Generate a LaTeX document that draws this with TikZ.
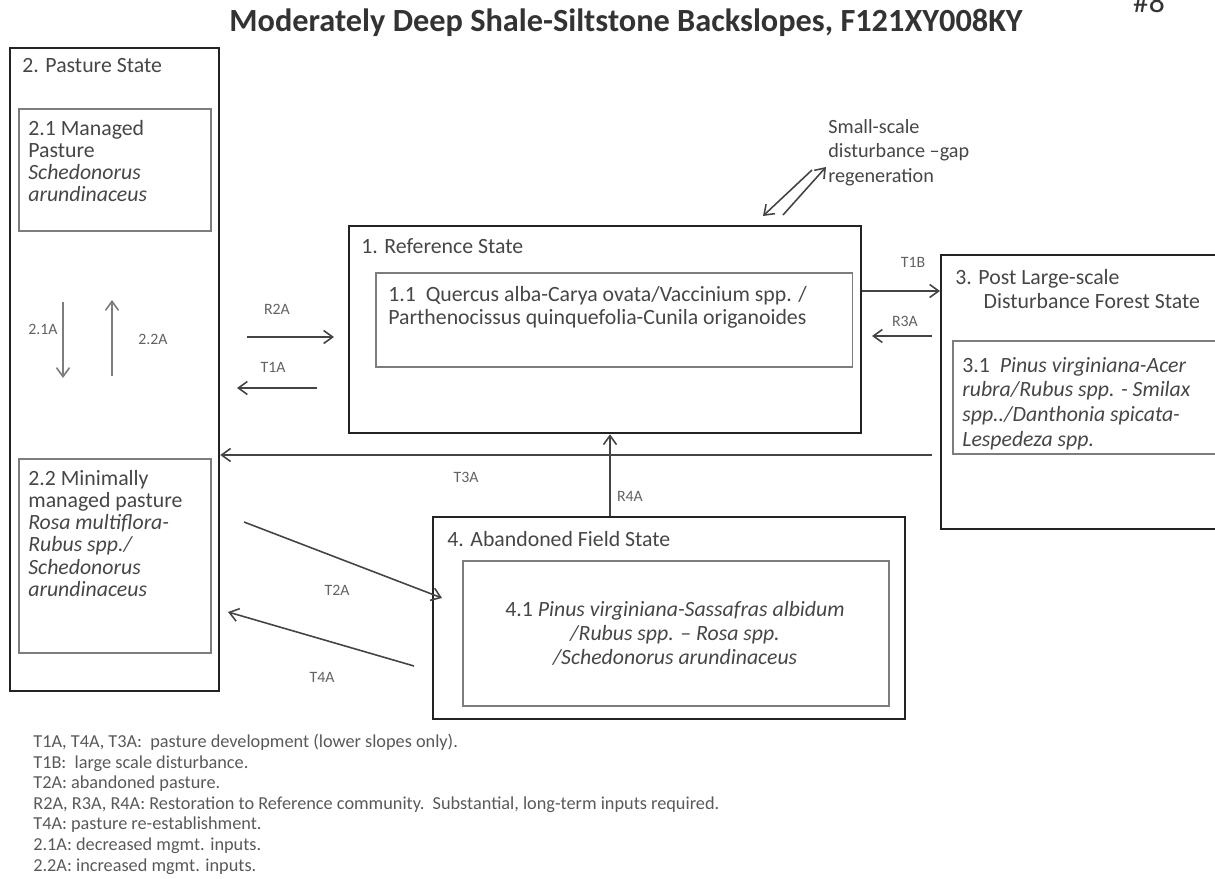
\documentclass[tikz,border=0pt]{standalone}
\usepackage{fontspec}
\setmainfont{Carlito}
\usetikzlibrary{arrows.meta,positioning}
\definecolor{statetext}{RGB}{70,70,70}
\definecolor{boxline}{RGB}{35,35,35}
\definecolor{phaseline}{RGB}{125,125,125}

\begin{document}
\begin{tikzpicture}[x=0.02cm,y=-0.02cm,
  statebox/.style={draw=boxline,line width=1.3pt,anchor=north west,inner sep=0pt},
  phasebox/.style={draw=phaseline,line width=0.9pt,anchor=north west,inner sep=0pt},
  boxtext/.style={anchor=north west,inner sep=0pt,align=left,text=statetext,font=\fontsize{12.4}{12.6}\selectfont},
  pathlabel/.style={text=statetext!85,inner sep=0pt,font=\fontsize{9}{10}\selectfont},
  trans/.style={draw=boxline!85,line width=0.9pt,-{Straight Barb[length=1.8mm,width=2.6mm]}}]
\useasboundingbox (0,0) rectangle (1215,879);

% Title
\node[font=\bfseries\fontsize{18.4}{20}\selectfont,text=black!80] (title) at (626,23) {Moderately Deep Shale-Siltstone Backslopes, F121XY008KY};
\node[anchor=base,font=\fontsize{18}{20}\selectfont,text=black!80] (num) at (1149,12) {\#8};

% Pasture State
\node[statebox,minimum width=4.18cm,minimum height=12.86cm] (pasture) at (9,47) {};
\node[boxtext] (pastureT) at (22,58) {2. Pasture State};
\node[phasebox,minimum width=3.84cm,minimum height=2.44cm] (p21) at (18,108) {};
\node[boxtext] (p21T) at (28,120) {2.1 Managed\\Pasture\\\textit{Schedonorus}\\\textit{arundinaceus}};
\node[phasebox,minimum width=3.84cm,minimum height=3.88cm] (p22) at (18,458) {};
\node[boxtext] (p22T) at (28,470) {2.2 Minimally\\managed pasture\\\textit{Rosa multiflora-}\\\textit{Rubus spp./}\\\textit{Schedonorus}\\\textit{arundinaceus}};

% 2.1A / 2.2A
\coordinate (a21s) at (63,302);
\coordinate (a21e) at (63,378);
\coordinate (a22s) at (112,376);
\coordinate (a22e) at (112,300);
\draw[trans,draw=phaseline] (a21s) -- (a21e);
\draw[trans,draw=phaseline] (a22s) -- (a22e);
\node[pathlabel] (a21L) at (43,329) {2.1A};
\node[pathlabel] (a22L) at (153,339) {2.2A};

% Reference State
\node[statebox,minimum width=10.24cm,minimum height=4.14cm] (ref) at (348,225) {};
\node[boxtext] (refT) at (361,238) {1. Reference State};
\node[phasebox,minimum width=9.54cm,minimum height=1.88cm] (ref11) at (375,272) {};
\node[boxtext,font=\fontsize{12.4}{13}\selectfont] (ref11T) at (388,286) {1.1\ \ Quercus alba-Carya ovata/Vaccinium spp. /\\Parthenocissus quinquefolia-Cunila origanoides};

% gap regeneration
\node[boxtext,font=\fontsize{11.5}{14}\selectfont] (gapT) at (828,119) {Small-scale\\disturbance --gap\\regeneration};
\coordinate (g1s) at (812,170);
\coordinate (g1e) at (763,216);
\coordinate (g2s) at (783,215);
\coordinate (g2e) at (826,167);
\draw[trans] (g1s) -- (g1e);
\draw[trans] (g2s) -- (g2e);

% Post Large-scale Disturbance Forest State
\node[statebox,minimum width=5.9cm,minimum height=5.48cm] (post) at (940,254) {};
\node[boxtext,font=\fontsize{12.4}{13.6}\selectfont] (postT) at (955,269) {3. Post Large-scale\\\hspace*{1.3em}Disturbance Forest State};
\node[phasebox,minimum width=5.6cm,minimum height=2.26cm] (post31) at (952,340) {};
\node[boxtext,font=\fontsize{12.4}{14}\selectfont] (post31T) at (962,357) {3.1\ \ \textit{Pinus virginiana-Acer}\\\textit{rubra/Rubus spp. - Smilax}\\\textit{spp../Danthonia spicata-}\\\textit{Lespedeza spp.}};

% Abandoned Field State
\node[statebox,minimum width=9.44cm,minimum height=4.04cm] (aband) at (432,516) {};
\node[boxtext] (abandT) at (447,531) {4. Abandoned Field State};
\node[phasebox,minimum width=8.52cm,minimum height=2.9cm] (aband41) at (462,560) {};
\node[boxtext,anchor=north,align=center,font=\fontsize{12.4}{13.6}\selectfont] (aband41T) at (675,601) {4.1 \textit{Pinus virginiana-Sassafras albidum}\\\textit{/Rubus spp. -- Rosa spp.}\\\textit{/Schedonorus arundinaceus}};

% transitions
\coordinate (t1b) at (0,291);
\draw[trans] (ref.east |- t1b) -- (post.west |- t1b);
\node[pathlabel] (t1bL) at (913,262) {T1B};
\coordinate (r3as) at (932,336);
\coordinate (r3ae) at (872,336);
\draw[trans] (r3as) -- (r3ae);
\node[pathlabel] (r3aL) at (905,321) {R3A};
\coordinate (t3a) at (0,455);
\draw[trans,shorten <=0.16cm] (post.west |- t3a) -- (pasture.east |- t3a);
\node[pathlabel] (t3aL) at (466,477) {T3A};
\coordinate (r4a) at (610,0);
\draw[trans] (aband.north -| r4a) -- (ref.south -| r4a);
\node[pathlabel] (r4aL) at (630,496) {R4A};
\coordinate (r2as) at (247,337);
\coordinate (r2ae) at (334,337);
\draw[trans] (r2as) -- (r2ae);
\node[pathlabel] (r2aL) at (277,309) {R2A};
\coordinate (t1as) at (317,388);
\coordinate (t1ae) at (237,388);
\draw[trans] (t1as) -- (t1ae);
\node[pathlabel] (t1aL) at (273,367) {T1A};
\coordinate (t2as) at (244,522);
\coordinate (t2ae) at (442,598);
\draw[trans] (t2as) -- (t2ae);
\node[pathlabel] (t2aL) at (337,590) {T2A};
\coordinate (t4as) at (414,666);
\coordinate (t4ae) at (228,612);
\draw[trans] (t4as) -- (t4ae);
\node[pathlabel] (t4aL) at (322,677) {T4A};

% Legend
\node[boxtext,font=\fontsize{10.4}{11.7}\selectfont,text=black!65] (legend) at (33,734) {T1A, T4A, T3A:\ \ pasture development (lower slopes only).\\T1B:\ \ large scale disturbance.\\T2A: abandoned pasture.\\R2A, R3A, R4A: Restoration to Reference community.\ \ Substantial, long-term inputs required.\\T4A: pasture re-establishment.\\2.1A: decreased mgmt. inputs.\\2.2A: increased mgmt. inputs.};
\end{tikzpicture}
\end{document}
